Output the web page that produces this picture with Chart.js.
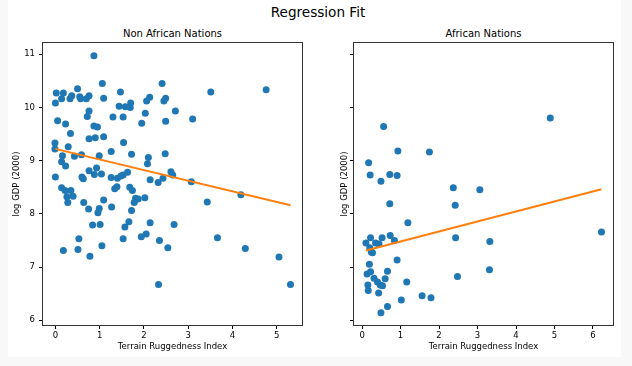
<!DOCTYPE html>
<html>
<head>
<meta charset="utf-8">
<script src="https://cdn.jsdelivr.net/npm/chart.js@4.4.1/dist/chart.umd.min.js"></script>
<style>
  html, body { margin: 0; padding: 0; background: #f8f8f8; }
  body { position: relative; width: 632px; height: 366px; overflow: hidden; font-family: 'DejaVu Sans', sans-serif; color: #000; }
  #fig { position: absolute; left: 8px; top: 0; width: 613px; height: 357px; background: #fff; }
  .panel { position: absolute; top: 0; width: 316px; height: 366px; }
  .suptitle { position: absolute; left: 0; top: 4px; width: 636px; text-align: center; font-size: 13.6px; line-height: 16px; }
  .subtitle { position: absolute; top: 28px; width: 200px; text-align: center; font-size: 10px; line-height: 12px; }
</style>
</head>
<body>
<div id="fig"></div>
<div class="suptitle">Regression Fit</div>
<div class="subtitle" style="left:72.5px">Non African Nations</div>
<div class="subtitle" style="left:383.5px">African Nations</div>
<canvas id="nonAfricaChart" class="panel" style="left:0" width="316" height="366"></canvas>
<canvas id="africaChart" class="panel" style="left:316px" width="316" height="366"></canvas>
<script>
// terrain ruggedness vs log GDP
const nonAfricaRugged = [
  0.87, 1.06, 2.41, 0.02, 0.18, 0.50, 0.37, 0.33, 0.14, 0.00,
  0.55, 0.57, 0.70, 0.76, 1.09, 1.47, 1.70, 1.69, 1.58, 1.44,
  2.13, 2.06, 2.49, 2.45, 0.76, 0.72, 1.30, 1.53, 2.03, 0.05,
  0.23, 1.95, 2.49, 0.87, 0.95, 0.34, 0.76, 0.90, 1.09, 1.54,
  -0.01, 0.29, -0.01, 1.26, 0.16, 0.43, 0.59, 0.99, 1.72, 2.48,
  0.14, 0.23, 0.93, 2.10, 2.08, 2.61, 0.76, 0.88, 1.04, 0.00,
  0.60, 0.63, 1.26, 1.40, 1.48, 1.53, 1.63, 2.14, 2.32, 2.43,
  2.65, 0.14, 0.22, 0.35, 0.26, 0.40, 0.28, 1.34, 1.39, 1.68,
  1.74, 1.81, 1.87, 2.02, 1.78, 0.64, 1.09, 0.75, 0.99, 0.96,
  1.27, 1.72, 0.84, 1.01, 1.66, 1.57, 2.14, 0.53, 0.51, 0.18,
  0.78, 1.05, 1.53, 1.94, 2.05, 2.35, 2.54, 2.33, 2.68, 3.51,
  4.76, 2.71, 3.10, 3.07, 4.19, 3.43, 3.66, 4.29, 5.05, 5.31,
];
const nonAfricaGdp = [
  10.97, 10.45, 10.45, 10.27, 10.27, 10.35, 10.22, 10.16, 10.16, 10.08,
  10.20, 10.16, 10.16, 10.22, 10.17, 10.29, 10.08, 10.00, 10.01, 10.02,
  10.19, 10.12, 10.17, 10.12, 9.93, 9.83, 9.82, 9.82, 9.89, 9.75,
  9.69, 9.70, 9.74, 9.65, 9.63, 9.51, 9.41, 9.43, 9.45, 9.34,
  9.33, 9.26, 9.22, 9.17, 9.09, 9.08, 9.11, 9.09, 9.12, 9.13,
  8.98, 8.90, 8.86, 9.06, 8.94, 8.79, 8.81, 8.74, 8.75, 8.69,
  8.69, 8.66, 8.68, 8.67, 8.71, 8.73, 8.78, 8.64, 8.59, 8.67,
  8.73, 8.49, 8.44, 8.44, 8.32, 8.33, 8.21, 8.47, 8.51, 8.50,
  8.44, 8.29, 8.28, 8.30, 8.21, 8.21, 8.26, 8.09, 8.10, 8.02,
  8.13, 8.06, 7.79, 7.80, 7.85, 7.75, 7.83, 7.53, 7.33, 7.31,
  7.20, 7.40, 7.53, 7.57, 7.62, 7.50, 7.36, 6.67, 7.80, 10.29,
  10.33, 9.93, 9.78, 8.60, 8.36, 8.22, 7.55, 7.35, 7.19, 6.67,
];
const nonAfricaFitX = [0.00, 5.31];
const nonAfricaFitY = [9.22, 8.16];

const africaRugged = [
  0.56, 0.93, 1.75, 0.17, 0.21, 0.72, 0.91, 0.49, 2.37, 3.06,
  2.42, 0.72, 1.19, 0.22, 0.52, 0.73, 0.84, 0.10, 0.35, 0.44,
  0.20, 0.24, 0.27, 2.43, 0.91, 0.19, 0.22, 0.13, 0.66, 0.31,
  0.60, 0.40, 0.47, 0.53, 0.15, 1.16, 2.48, 0.16, 0.43, 1.56,
  1.79, 1.02, 0.66, 0.49, 4.89, 3.32, 3.31, 6.22,
];
const africaGdp = [
  9.64, 9.18, 9.16, 8.96, 8.73, 8.74, 8.72, 8.61, 8.49, 8.45,
  8.16, 8.19, 7.83, 7.55, 7.55, 7.59, 7.50, 7.45, 7.45, 7.43,
  7.36, 7.28, 7.27, 7.55, 7.13, 7.05, 6.91, 6.87, 6.92, 6.79,
  6.78, 6.72, 6.66, 6.65, 6.66, 6.72, 6.82, 6.56, 6.51, 6.46,
  6.42, 6.38, 6.26, 6.14, 9.80, 7.48, 6.95, 7.66,
];
const africaFitX = [0.10, 6.22];
const africaFitY = [7.31, 8.46];

const FONT = "'DejaVu Sans', sans-serif";

function toPoints(xs, ys) {
  return xs.map((x, i) => ({ x, y: ys[i] }));
}

// matplotlib draws all four spines
const frame = {
  id: 'frame',
  afterDatasetsDraw(chart) {
    const { ctx, chartArea: a } = chart;
    ctx.save();
    ctx.strokeStyle = '#333';
    ctx.lineWidth = 1;
    ctx.strokeRect(Math.round(a.left) - 0.5, Math.round(a.top) - 0.5,
      Math.round(a.right - a.left) + 1, Math.round(a.bottom - a.top) + 1);
    ctx.restore();
  },
};

function renderPanel(canvasId, rugged, gdp, fitX, fitY, cfg) {
  const ctx = document.getElementById(canvasId);
  return new Chart(ctx, {
    type: 'scatter',
    data: {
      datasets: [
        {
          data: toPoints(fitX, fitY),
          showLine: true,
          borderColor: '#ff7f0e',
          borderWidth: 2,
          pointRadius: 0,
          order: 0,
        },
        {
          data: toPoints(rugged, gdp),
          backgroundColor: '#1f77b4',
          borderWidth: 0,
          pointRadius: 3.5,
          order: 1,
        },
      ],
    },
    options: {
      responsive: false,
      animation: false,
      events: [],
      layout: { padding: { top: 43, right: cfg.padRight, bottom: 0, left: 0 } },
      plugins: {
        legend: { display: false },
        tooltip: { enabled: false },
      },
      scales: {
        x: {
          type: 'linear',
          min: cfg.xMin,
          max: cfg.xMax,
          afterFit: (s) => { s.height = 41; },
          ticks: {
            stepSize: 1,
            includeBounds: false,
            maxRotation: 0,
            padding: 2,
            color: '#000',
            font: { family: FONT, size: 8.5 },
          },
          grid: { drawOnChartArea: false, drawTicks: true, tickLength: 4, color: '#000' },
          border: { display: false },
          title: {
            display: true,
            text: 'Terrain Ruggedness Index',
            color: '#000',
            font: { family: FONT, size: 8.5 },
            padding: { top: 0, bottom: 14 },
          },
        },
        y: {
          type: 'linear',
          min: 5.91,
          max: 11.21,
          afterFit: (s) => { s.width = cfg.yWidth; },
          ticks: {
            stepSize: 1,
            includeBounds: false,
            display: cfg.yLabels,
            padding: 4,
            color: '#000',
            font: { family: FONT, size: 8.5 },
          },
          grid: { drawOnChartArea: false, drawTicks: true, tickLength: 4, color: '#000' },
          border: { display: false },
          title: {
            display: true,
            text: 'log GDP (2000)',
            color: '#000',
            font: { family: FONT, size: 8.5 },
            padding: { top: cfg.yTitlePad, bottom: 0 },
          },
        },
      },
    },
    plugins: [frame],
  });
}

renderPanel('nonAfricaChart', nonAfricaRugged, nonAfricaGdp, nonAfricaFitX, nonAfricaFitY,
  { xMin: -0.28, xMax: 5.57, padRight: 14, yWidth: 43, yLabels: true, yTitlePad: 12 });
renderPanel('africaChart', africaRugged, africaGdp, africaFitX, africaFitY,
  { xMin: -0.21, xMax: 6.52, padRight: 19, yWidth: 38, yLabels: false, yTitlePad: 24 });
</script>
</body>
</html>
